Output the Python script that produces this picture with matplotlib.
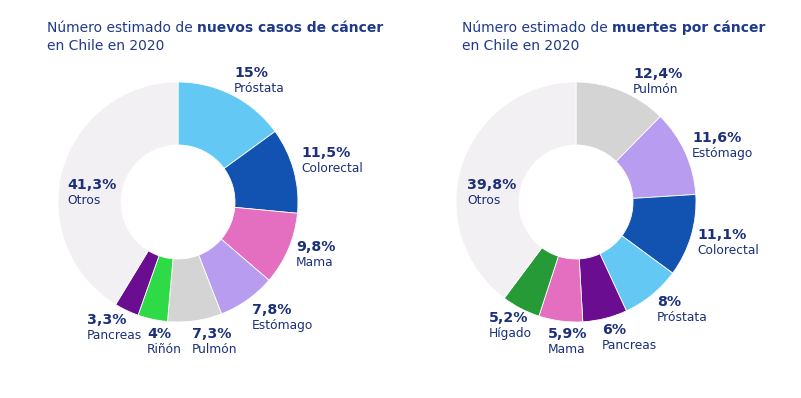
import matplotlib.pyplot as plt

W, H = 801, 398

# --- data -----------------------------------------------------------------
new_labels = ["Próstata", "Colorectal", "Mama", "Estómago", "Pulmón",
              "Riñón", "Pancreas", "Otros"]
new_values = [15.0, 11.5, 9.8, 7.8, 7.3, 4.0, 3.3, 41.3]

death_labels = ["Pulmón", "Estómago", "Colorectal", "Próstata", "Pancreas",
                "Mama", "Hígado", "Otros"]
death_values = [12.4, 11.6, 11.1, 8.0, 6.0, 5.9, 5.2, 39.8]

# --- style ----------------------------------------------------------------
colors = {
    "Próstata": "#64c8f5",
    "Colorectal": "#1252b0",
    "Mama": "#e46ec0",
    "Estómago": "#b79cf0",
    "Pulmón": "#d4d4d4",
    "Riñón": "#2edb46",
    "Pancreas": "#6a0d91",
    "Hígado": "#259a37",
    "Otros": "#f2f0f2",
}
NAVY = "#1b2f7a"
TITLE_C = "#1f3a8a"

# label anchors in pixel coords (left x, y of the percentage line)
new_pos = [(234, 73), (301, 153), (296, 247), (252, 310), (192, 334),
           (147, 334), (87, 320), (67, 185)]
death_pos = [(633, 74), (692, 138), (697, 235), (657, 302), (602, 330),
             (548, 334), (489, 318), (467, 185)]

plt.rcParams["font.family"] = ["DejaVu Sans"]

fig = plt.figure(figsize=(W / 100, H / 100), dpi=100)
ax = fig.add_axes([0, 0, 1, 1])


def fmt(v):
    return f"{v:g}".replace(".", ",") + "%"


def donut(cx, cy, labels, values, positions, title_bold, title_x):
    ax.pie(values, colors=[colors[l] for l in labels], startangle=90,
           counterclock=False, center=(cx, H - cy), radius=120,
           wedgeprops=dict(width=63, edgecolor="white", linewidth=0.6),
           frame=True)
    for lab, v, (px, py) in zip(labels, values, positions):
        ax.text(px, H - py, fmt(v), color=NAVY, fontsize=10.2,
                fontweight="bold", ha="left", va="center")
        ax.text(px, H - py - 15.5, lab, color=NAVY, fontsize=8.8,
                ha="left", va="center")
    # title: regular + bold part
    t = ax.text(title_x, H - 28, "Número estimado de ", color=TITLE_C,
                fontsize=10, ha="left", va="center")
    ax.annotate(title_bold, xy=(1, 0.5), xycoords=t, color=TITLE_C,
                fontsize=10, fontweight="bold", ha="left", va="center")
    ax.text(title_x, H - 46, "en Chile en 2020", color=TITLE_C,
            fontsize=10, ha="left", va="center")


donut(178, 202, new_labels, new_values, new_pos,
      "nuevos casos de cáncer", 47)
donut(576, 202, death_labels, death_values, death_pos,
      "muertes por cáncer", 462)

ax.set_xlim(0, W)
ax.set_ylim(0, H)
ax.set_aspect("auto")
ax.axis("off")

fig.savefig("out.png", dpi=100)
